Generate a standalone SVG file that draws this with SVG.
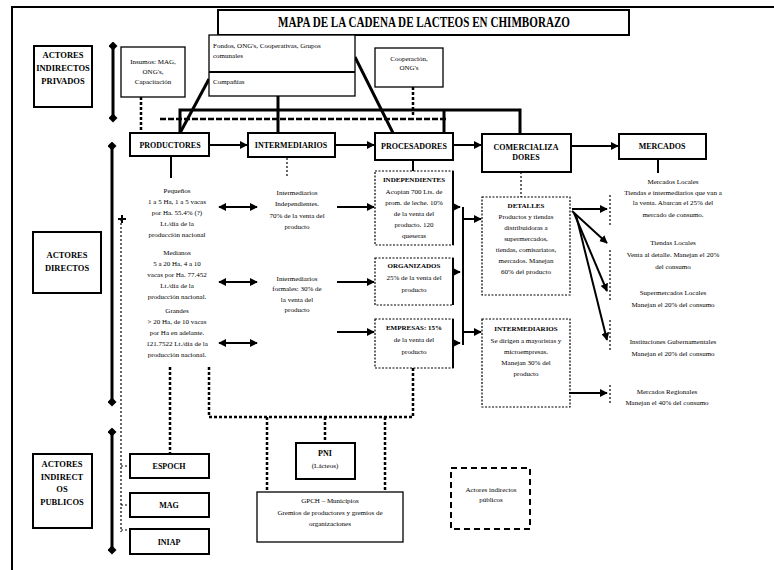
<svg xmlns="http://www.w3.org/2000/svg" width="774" height="570" viewBox="0 0 774 570">
<style>
text{font-family:"Liberation Serif","Times New Roman",serif;fill:#000}
.s{font-size:7px;text-anchor:middle}
.sl{font-size:7px}
.h{font-size:8px;font-weight:bold;text-anchor:middle}
.lab{font-size:8.5px;font-weight:bold;text-anchor:middle}
.box{fill:#fff;stroke:#000;stroke-width:2}
.bx1{fill:#fff;stroke:#000;stroke-width:1.3}
.dbox{fill:none;stroke:#000;stroke-width:1.2;stroke-dasharray:2,1.5}
.ln{fill:none;stroke:#000;stroke-width:2}
.thk{fill:none;stroke:#000;stroke-width:3}
.dot{fill:none;stroke:#000;stroke-width:2.5;stroke-dasharray:3,2}
.fdot{fill:none;stroke:#000;stroke-width:1.2;stroke-dasharray:2,2}
.arr{fill:none;stroke:#000;stroke-width:2;marker-end:url(#ah)}
.dar{fill:none;stroke:#000;stroke-width:2;marker-end:url(#ah);marker-start:url(#as)}
.vd{fill:none;stroke:#000;stroke-width:3;marker-end:url(#dm);marker-start:url(#dm)}
</style>
<defs>
<marker id="ah" viewBox="0 0 10 10" refX="9" refY="5" markerWidth="4" markerHeight="4" orient="auto" markerUnits="strokeWidth"><path d="M0,0L10,5L0,10z"/></marker>
<marker id="as" viewBox="0 0 10 10" refX="1" refY="5" markerWidth="4" markerHeight="4" orient="auto" markerUnits="strokeWidth"><path d="M10,0L0,5L10,10z"/></marker>
<marker id="dm" viewBox="0 0 10 10" refX="5" refY="5" markerWidth="3" markerHeight="3" orient="auto" markerUnits="strokeWidth"><path d="M5,0L10,5L5,10L0,5z"/></marker>
</defs>

<path class="ln" d="M12,570V7H774"/>

<g id="title">
<rect class="box" x="218" y="10" width="411" height="25" stroke-width="2.5"/>
<text x="424" y="27" font-size="14" font-weight="bold" text-anchor="middle" textLength="292" lengthAdjust="spacingAndGlyphs">MAPA DE LA CADENA DE LACTEOS EN CHIMBORAZO</text>
</g>

<g id="connectors">
<path class="vd" d="M113,46V118"/>
<path class="vd" d="M112,146V402"/>
<path class="vd" d="M112,432V550"/>
<path class="dot" d="M141,97V133"/>
<path class="dot" d="M413,87V117"/>
<path class="thk" d="M278,96V133"/>
<path class="thk" d="M209,79L180,133"/>
<path class="thk" d="M355,57L393,133"/>
<path class="thk" d="M180,133V110H520V134"/>
<path class="thk" d="M444,110V133"/>
<path d="M160,119H448" fill="none" stroke="#000" stroke-width="2.5" stroke-dasharray="6,2"/>
<path class="arr" d="M210,145H247"/>
<path class="arr" d="M335,145H374"/>
<path class="arr" d="M453,145H481"/>
<path class="arr" d="M571,146H618"/>
<path class="ln" d="M171,156V178"/>
<path class="fdot" d="M287,158V176"/>
<path class="ln" d="M413,160V171"/>
<path class="fdot" d="M521,172V197"/>
<path class="ln" d="M658,159V173"/>
<path class="dar" d="M219,207H257"/>
<path class="dar" d="M219,282H257"/>
<path class="dar" d="M219,343H257"/>
<path class="arr" d="M337,207H374"/>
<path class="arr" d="M337,282H374"/>
<path class="arr" d="M337,332H374"/>
<path class="arr" d="M453,207H460"/>
<path class="arr" d="M453,272H460"/>
<path class="arr" d="M453,343H460"/>
<path class="ln" d="M463,207V345"/>
<path class="arr" d="M463,219H481"/>
<path class="arr" d="M463,332H481"/>
<path class="arr" d="M572,209H607"/>
<path class="arr" d="M572,211L607,243"/>
<path class="arr" d="M574,213L607,291"/>
<path class="arr" d="M576,215L607,340"/>
<path class="arr" d="M569,393H607"/>
<path class="fdot" d="M610,195V225M610,250V300M610,320V350M610,385V405"/>
<path class="fdot" d="M121,219V532M121,466H130M121,505H130M121,530H130"/>
<path class="ln" d="M118,219H126M122,215V223" stroke-width="1.5"/>
<path class="dot" d="M170,367V454"/>
<path class="dot" d="M209,367V417H413V368"/>
<path class="dot" d="M267,417V492"/>
<path class="dot" d="M325,417V443"/>
<path class="dot" d="M385,417V492"/>
</g>

<g id="actores-indirectos-privados">
<rect class="box" x="34" y="46" width="58" height="61"/>
<text class="lab" x="63" y="58">ACTORES</text>
<text class="lab" x="63" y="71">INDIRECTOS</text>
<text class="lab" x="63" y="84">PRIVADOS</text>
</g>

<g id="insumos">
<rect class="bx1" x="121" y="47" width="64" height="50"/>
<text class="s" x="153" y="64">Insumos: MAG,</text>
<text class="s" x="153" y="74">ONG's,</text>
<text class="s" x="153" y="84">Capacitación</text>
</g>

<g id="fondos">
<rect class="bx1" x="209" y="35" width="146" height="61"/>
<path class="ln" d="M209,72H355" stroke-width="1.3"/>
<text class="sl" x="213" y="48">Fondos, ONG's, Cooperativas, Grupos</text>
<text class="sl" x="213" y="58">comunales</text>
<text class="sl" x="213" y="84">Compañías</text>
</g>

<g id="cooperacion">
<rect class="bx1" x="375" y="48" width="68" height="39"/>
<text class="s" x="409" y="61">Cooperación,</text>
<text class="s" x="409" y="70">ONG's</text>
</g>

<g id="productores">
<rect class="box" x="130" y="133" width="79" height="23"/>
<text class="h" x="170" y="148">PRODUCTORES</text>
</g>
<g id="intermediarios">
<rect class="box" x="248" y="133" width="87" height="24"/>
<text class="h" x="291" y="148">INTERMEDIARIOS</text>
</g>
<g id="procesadores">
<rect class="box" x="375" y="133" width="78" height="27"/>
<text class="h" x="414" y="149">PROCESADORES</text>
</g>
<g id="comercializadores">
<rect class="box" x="482" y="134" width="89" height="38"/>
<text class="h" x="526" y="150">COMERCIALIZA</text>
<text class="h" x="526" y="160">DORES</text>
</g>
<g id="mercados">
<rect class="box" x="619" y="134" width="87" height="25"/>
<text class="h" x="662" y="149">MERCADOS</text>
</g>

<g id="actores-directos">
<rect class="box" x="33" y="232" width="68" height="61"/>
<text class="lab" x="67" y="258">ACTORES</text>
<text class="lab" x="67" y="271">DIRECTOS</text>
</g>

<g id="pequenos">
<text class="s" x="177" y="193">Pequeños</text>
<text class="s" x="177" y="204">1 a 5 Ha, 1 a 5 vacas</text>
<text class="s" x="177" y="215">por Ha. 55.4% (?)</text>
<text class="s" x="177" y="226">Lt./día de la</text>
<text class="s" x="177" y="237">producción nacional</text>
</g>
<g id="medianos">
<text class="s" x="177" y="255">Medianos</text>
<text class="s" x="177" y="266">5 a 20 Ha, 4 a 10</text>
<text class="s" x="177" y="277">vacas por Ha. 77.452</text>
<text class="s" x="177" y="288">Lt./día de la</text>
<text class="s" x="177" y="299">producción nacional.</text>
</g>
<g id="grandes">
<text class="s" x="177" y="313">Grandes</text>
<text class="s" x="177" y="324">&gt; 20 Ha, de 10 vacas</text>
<text class="s" x="177" y="335">por Ha en adelante.</text>
<text class="s" x="177" y="346">121.7522 Lt./día de la</text>
<text class="s" x="177" y="357">producción nacional.</text>
</g>

<g id="intermediarios-independientes">
<text class="s" x="297" y="195">Intermediarios</text>
<text class="s" x="297" y="206">Independientes.</text>
<text class="s" x="297" y="218">70% de la venta del</text>
<text class="s" x="297" y="229">producto</text>
</g>
<g id="intermediarios-formales">
<text class="s" x="297" y="281">Intermediarios</text>
<text class="s" x="297" y="291">formales: 30% de</text>
<text class="s" x="297" y="302">la venta del</text>
<text class="s" x="297" y="312">producto</text>
</g>

<g id="independientes">
<rect class="dbox" x="375" y="171" width="78" height="74"/>
<path class="ln" d="M453,171V245" stroke-width="1.3"/>
<text class="s" x="414" y="182" font-weight="bold">INDEPENDIENTES</text>
<text class="s" x="414" y="194">Acopian 700 Lts. de</text>
<text class="s" x="414" y="205">prom. de leche. 10%</text>
<text class="s" x="414" y="216">de la venta del</text>
<text class="s" x="414" y="227">producto. 120</text>
<text class="s" x="414" y="238">queseras</text>
</g>
<g id="organizados">
<rect class="dbox" x="375" y="258" width="78" height="47"/>
<path class="ln" d="M453,258V305" stroke-width="1.3"/>
<text class="s" x="414" y="268" font-weight="bold">ORGANIZADOS</text>
<text class="s" x="414" y="280">25% de la venta del</text>
<text class="s" x="414" y="292">producto</text>
</g>
<g id="empresas">
<rect class="dbox" x="375" y="319" width="78" height="49"/>
<path class="ln" d="M453,319V368" stroke-width="1.3"/>
<text class="s" x="414" y="330" font-weight="bold">EMPRESAS: 15%</text>
<text class="s" x="414" y="342">de la venta del</text>
<text class="s" x="414" y="354">producto</text>
</g>

<g id="detalles">
<rect class="dbox" x="482" y="197" width="88" height="98"/>
<text class="s" x="526" y="208" font-weight="bold">DETALLES</text>
<text class="s" x="526" y="219">Productos y tiendas</text>
<text class="s" x="526" y="230">distribuidoras a</text>
<text class="s" x="526" y="241">supermercados,</text>
<text class="s" x="526" y="252">tiendas, comisariatos,</text>
<text class="s" x="526" y="263">mercados. Manejan</text>
<text class="s" x="526" y="274">60% del producto</text>
</g>
<g id="intermediarios-com">
<rect class="dbox" x="482" y="319" width="88" height="88"/>
<text class="s" x="526" y="331" font-weight="bold">INTERMEDIARIOS</text>
<text class="s" x="526" y="343">Se dirigen a mayoristas y</text>
<text class="s" x="526" y="354">microempresas.</text>
<text class="s" x="526" y="365">Manejan 30% del</text>
<text class="s" x="526" y="376">producto</text>
</g>

<g id="mercados-locales">
<text class="s" x="673" y="184">Mercados Locales</text>
<text class="s" x="673" y="195">Tiendas e intermediarios que van a</text>
<text class="s" x="673" y="205">la venta. Abarcan el 25% del</text>
<text class="s" x="673" y="217">mercado de consumo.</text>
</g>
<g id="tiendas-locales">
<text class="s" x="673" y="245">Tiendas Locales</text>
<text class="s" x="673" y="257">Venta al detalle. Manejan el 20%</text>
<text class="s" x="673" y="269">del consumo</text>
</g>
<g id="supermercados">
<text class="s" x="673" y="295">Supermercados Locales</text>
<text class="s" x="673" y="307">Manejan el 20% del consumo</text>
</g>
<g id="instituciones">
<text class="s" x="673" y="344">Instituciones Gubernamentales</text>
<text class="s" x="673" y="356">Manejan el 20% del consumo</text>
</g>
<g id="mercados-regionales">
<text class="s" x="667" y="394">Mercados Regionales</text>
<text class="s" x="667" y="405">Manejan el 40% del consumo</text>
</g>

<g id="actores-indirectos-publicos">
<rect class="box" x="33" y="454" width="59" height="74"/>
<text class="lab" x="62" y="467">ACTORES</text>
<text class="lab" x="62" y="480">INDIRECT</text>
<text class="lab" x="62" y="492">OS</text>
<text class="lab" x="62" y="505">PUBLICOS</text>
</g>
<g id="espoch">
<rect class="box" x="130" y="454" width="79" height="24"/>
<text class="h" x="169" y="469">ESPOCH</text>
</g>
<g id="mag">
<rect class="box" x="130" y="493" width="79" height="24"/>
<text class="h" x="169" y="508">MAG</text>
</g>
<g id="iniap">
<rect class="box" x="130" y="529" width="79" height="25"/>
<text class="h" x="169" y="545">INIAP</text>
</g>
<g id="pni">
<rect class="box" x="296" y="443" width="59" height="36"/>
<text class="h" x="325" y="456">PNI</text>
<text class="s" x="325" y="468">(Lácteos)</text>
</g>
<g id="gpch">
<rect class="bx1" x="257" y="492" width="146" height="50"/>
<text class="s" x="330" y="503">GPCH – Municipios</text>
<text class="s" x="330" y="515">Gremios de productores y gremios de</text>
<text class="s" x="330" y="526">organizaciones</text>
</g>
<g id="leyenda">
<rect x="451" y="468" width="79" height="61" fill="none" stroke="#000" stroke-width="2" stroke-dasharray="6,4"/>
<text class="s" x="491" y="492">Actores indirectos</text>
<text class="s" x="491" y="502">públicos</text>
</g>
</svg>
